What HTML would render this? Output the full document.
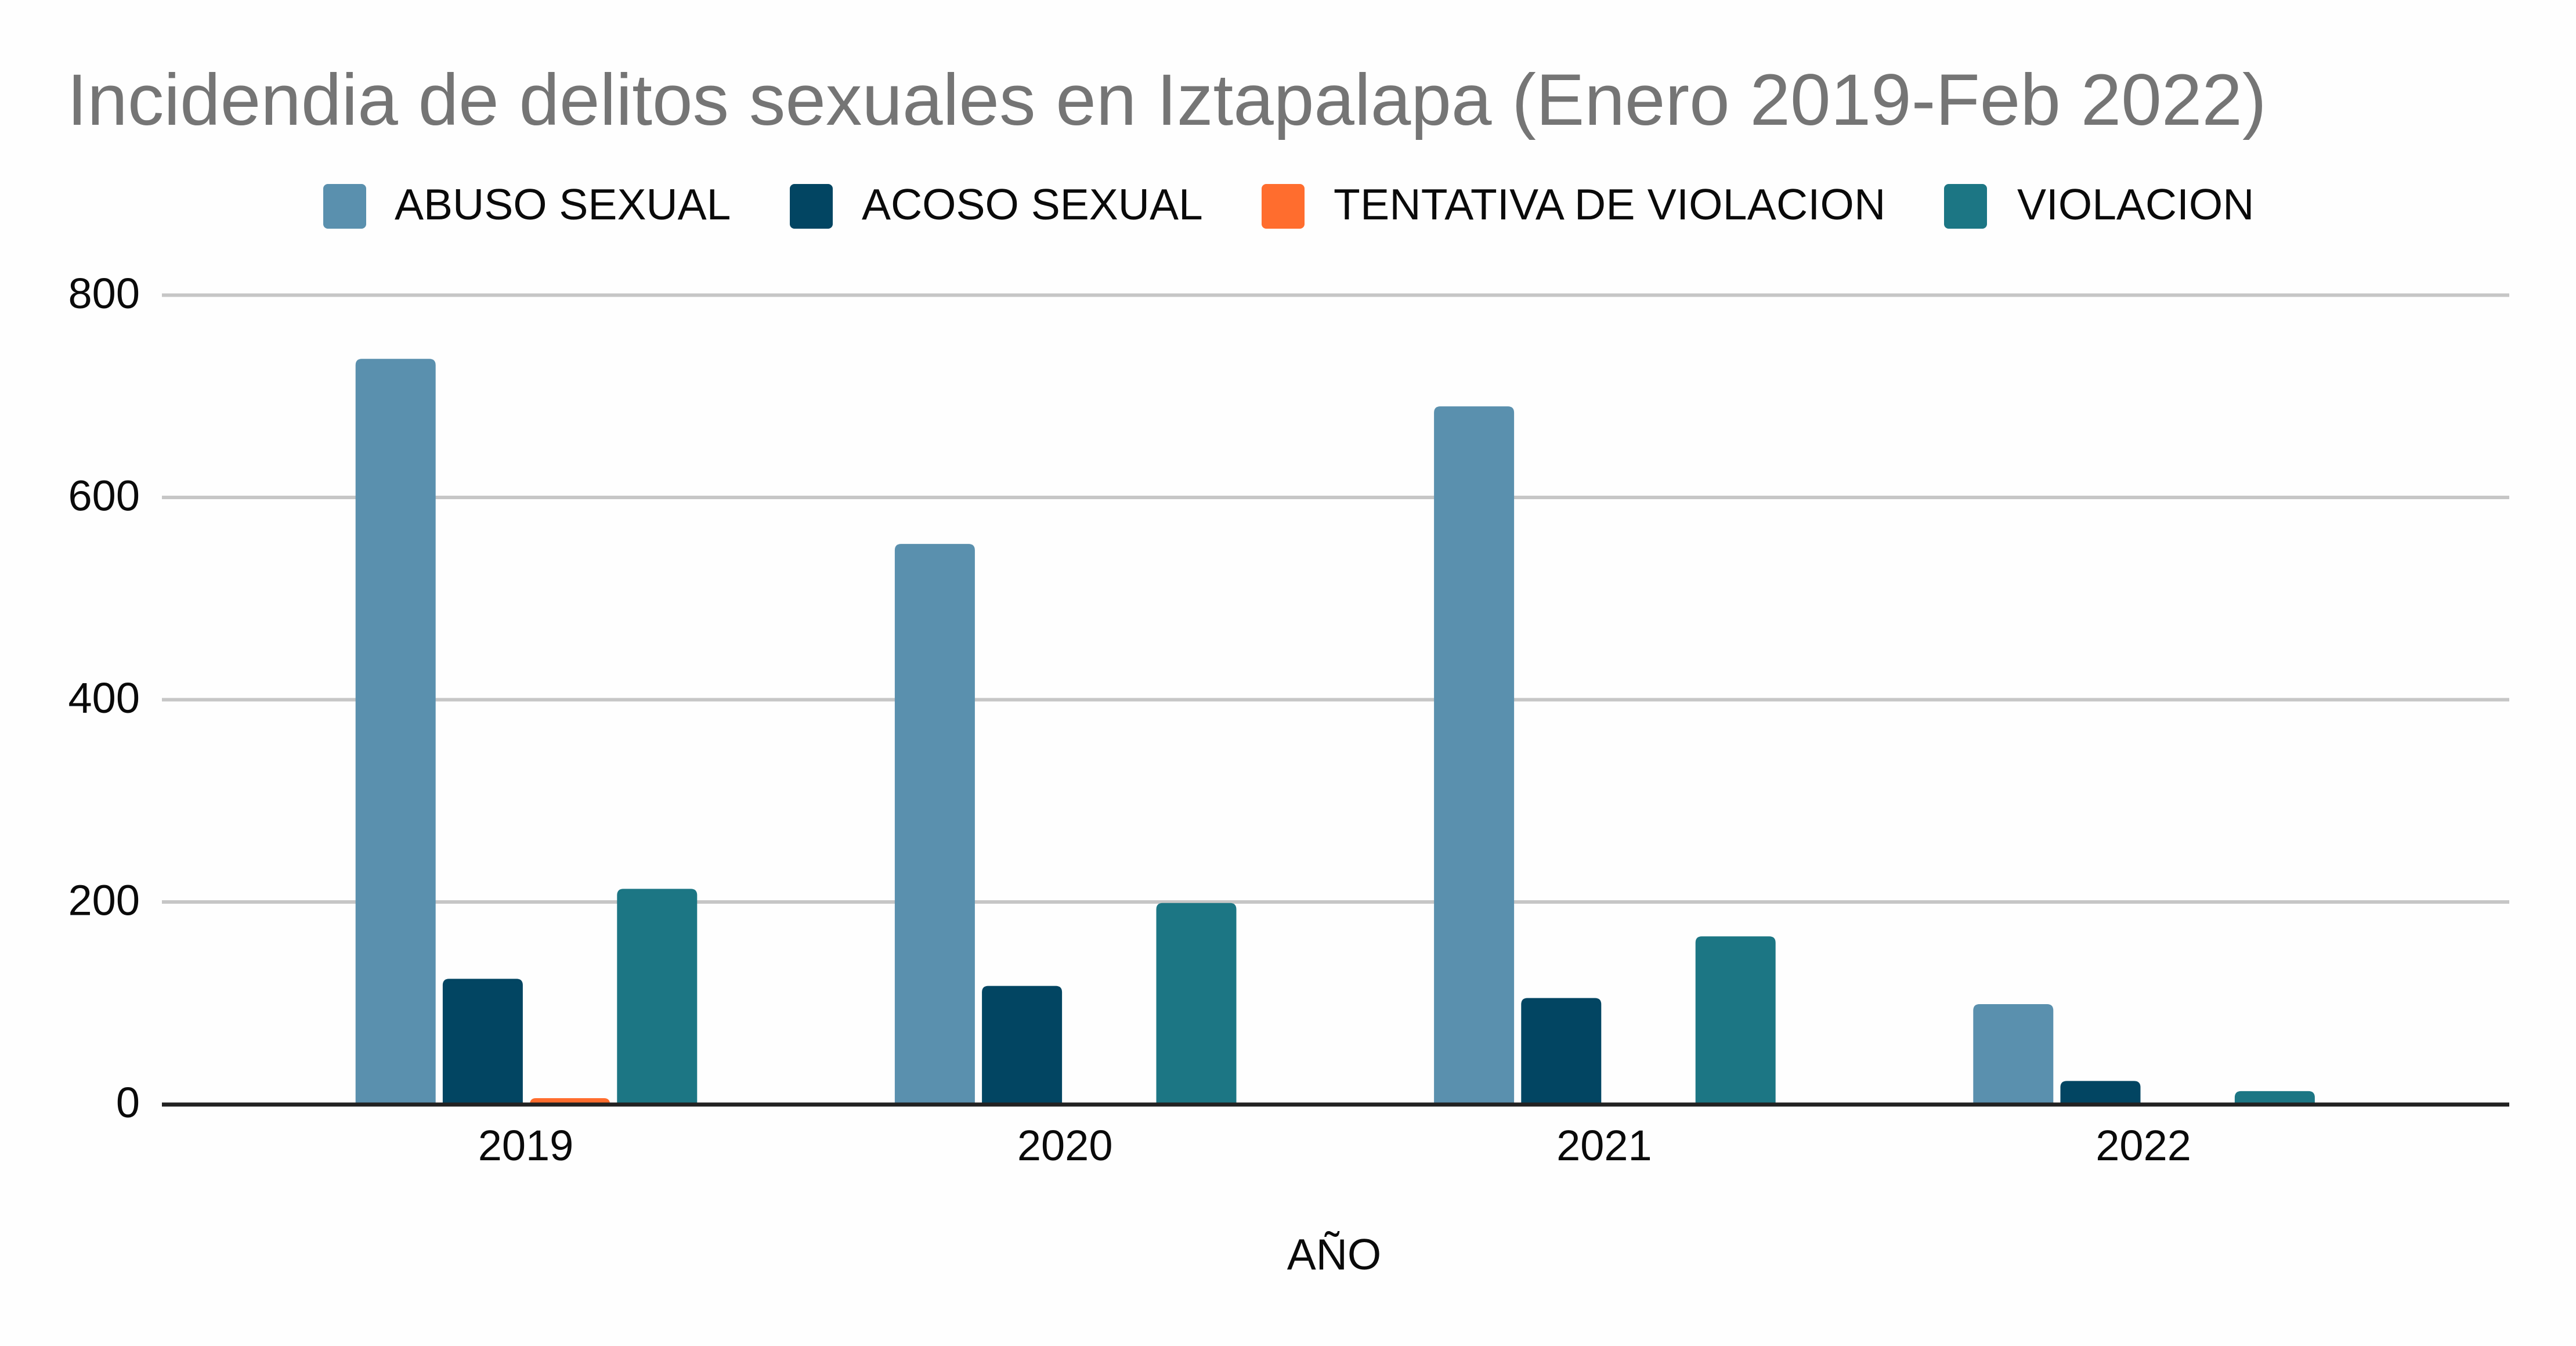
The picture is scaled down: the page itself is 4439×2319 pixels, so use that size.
<!DOCTYPE html>
<html lang="es">
<head>
<meta charset="utf-8">
<title>Incidendia de delitos sexuales en Iztapalapa</title>
<style>
  html, body { margin: 0; padding: 0; background: #fefefe; }
  svg { display: block; }
  text { font-family: "Liberation Sans", Arial, sans-serif; }
</style>
</head>
<body>
<svg id="chart" xmlns="http://www.w3.org/2000/svg" width="4439" height="2319" viewBox="0 0 4439 2319">
  <rect x="0" y="0" width="4439" height="2319" fill="#fefefe"/>
  <text x="115.5" y="215" font-size="125.1" fill="#757575">Incidendia de delitos sexuales en Iztapalapa (Enero 2019-Feb 2022)</text>

  <g>
    <g>
      <rect x="557" y="317" width="74" height="77" rx="8" fill="#5a90ae"/>
      <text x="680" y="378" font-size="75" fill="#0a0a0a">ABUSO SEXUAL</text>
    </g>
    <g>
      <rect x="1361" y="317" width="74" height="77" rx="8" fill="#024562"/>
      <text x="1485" y="378" font-size="75" fill="#0a0a0a">ACOSO SEXUAL</text>
    </g>
    <g>
      <rect x="2174" y="317" width="74" height="77" rx="8" fill="#ff6d2e"/>
      <text x="2298" y="378" font-size="75" letter-spacing="0.25" fill="#0a0a0a">TENTATIVA DE VIOLACION</text>
    </g>
    <g>
      <rect x="3350" y="317" width="74" height="77" rx="8" fill="#1c7684"/>
      <text x="3476" y="378" font-size="75" fill="#0a0a0a">VIOLACION</text>
    </g>
  </g>

  <g id="grid"></g>
  <g id="y-labels"></g>
  <g id="bars"></g>
  <line x1="279" x2="4324" y1="1903" y2="1903" stroke="#222222" stroke-width="7"/>
  <g id="x-labels"></g>
  <text x="2299" y="2187" font-size="75" fill="#0a0a0a" text-anchor="middle">AÑO</text>
</svg>
<script>
const years = ["2019", "2020", "2021", "2022"];
const abusoSexual = [737, 554, 690, 99];
const acosoSexual = [124, 117, 105, 23];
const tentativaViolacion = [6, 0, 0, 0];
const violacion = [213, 199, 166, 13];
const yTicks = [0, 200, 400, 600, 800];

const seriesValues = [abusoSexual, acosoSexual, tentativaViolacion, violacion];
const seriesKeys = ["abuso-sexual", "acoso-sexual", "tentativa-de-violacion", "violacion"];
const seriesColors = ["#5a90ae", "#024562", "#ff6d2e", "#1c7684"];

const NS = "http://www.w3.org/2000/svg";
const plotLeft = 279, plotRight = 4324;
const zeroY = 1902.5, pxPerUnit = 1.7425;
const firstCenter = 907, categoryStep = 929.2;
const barPitch = 150.2, barWidth = 138, barRadius = 11;

function yScale(v) { return zeroY - v * pxPerUnit; }
function xCenter(i) { return firstCenter + i * categoryStep; }
function xBar(i, s) {
  return xCenter(i) + (s - (seriesValues.length - 1) / 2) * barPitch - barWidth / 2;
}
function barPath(x, v) {
  const top = yScale(v), base = zeroY, h = base - top;
  const r = Math.min(barRadius, h, barWidth / 2);
  return "M" + x + " " + base +
    "V" + (top + r) +
    "Q" + x + " " + top + " " + (x + r) + " " + top +
    "H" + (x + barWidth - r) +
    "Q" + (x + barWidth) + " " + top + " " + (x + barWidth) + " " + (top + r) +
    "V" + base + "Z";
}

const gridGroup = document.getElementById("grid");
const yLabelGroup = document.getElementById("y-labels");
const barGroup = document.getElementById("bars");
const xLabelGroup = document.getElementById("x-labels");

yTicks.forEach(function (tick) {
  if (tick !== 0) {
    const line = document.createElementNS(NS, "line");
    
    
    line.setAttribute("x1", plotLeft);
    line.setAttribute("x2", plotRight);
    line.setAttribute("y1", yScale(tick));
    line.setAttribute("y2", yScale(tick));
    line.setAttribute("stroke", "#c6c6c6");
    line.setAttribute("stroke-width", "6");
    gridGroup.appendChild(line);
  }
  const label = document.createElementNS(NS, "text");
  
  
  label.setAttribute("x", 241);
  label.setAttribute("y", yScale(tick) + 22.5);
  label.setAttribute("font-size", "74");
  label.setAttribute("fill", "#0a0a0a");
  label.setAttribute("text-anchor", "end");
  label.textContent = String(tick);
  yLabelGroup.appendChild(label);
});

years.forEach(function (year, i) {
  seriesValues.forEach(function (values, s) {
    const bar = document.createElementNS(NS, "path");
    
    
    bar.setAttribute("d", barPath(xBar(i, s), values[i]));
    bar.setAttribute("fill", seriesColors[s]);
    barGroup.appendChild(bar);
  });
  const label = document.createElementNS(NS, "text");
  
  
  label.setAttribute("x", xCenter(i) - 1);
  label.setAttribute("y", 1999);
  label.setAttribute("font-size", "74");
  label.setAttribute("fill", "#0a0a0a");
  label.setAttribute("text-anchor", "middle");
  label.textContent = year;
  xLabelGroup.appendChild(label);
});
</script>
</body>
</html>
